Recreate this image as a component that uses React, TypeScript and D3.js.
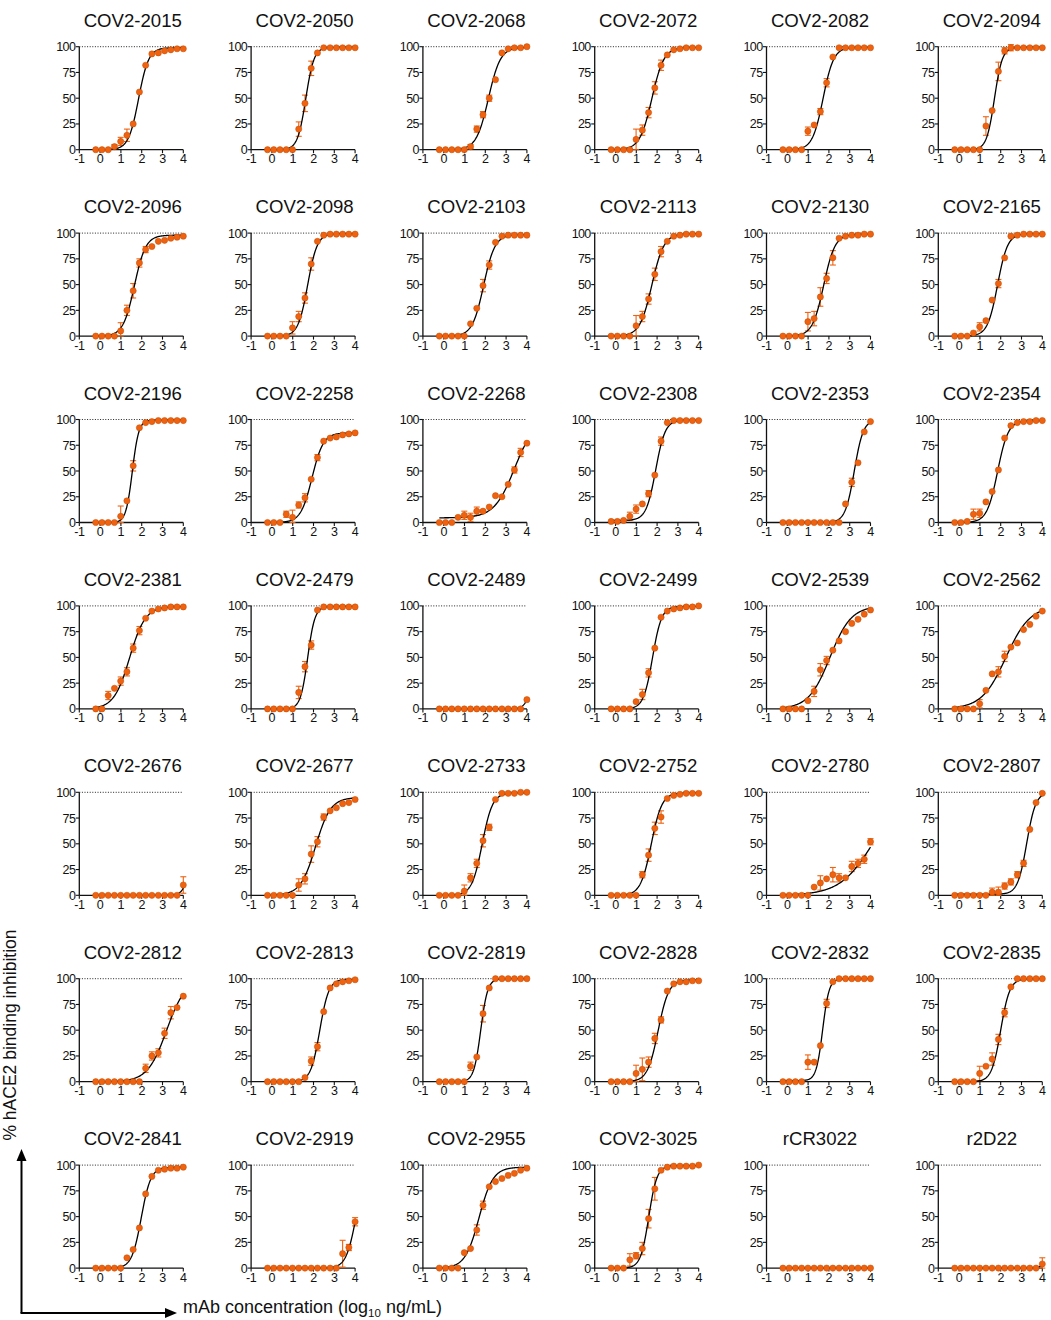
import React from "react";
import * as d3 from "d3";

const panelNames = [
  "COV2-2015", "COV2-2050", "COV2-2068", "COV2-2072", "COV2-2082", "COV2-2094",
  "COV2-2096", "COV2-2098", "COV2-2103", "COV2-2113", "COV2-2130", "COV2-2165",
  "COV2-2196", "COV2-2258", "COV2-2268", "COV2-2308", "COV2-2353", "COV2-2354",
  "COV2-2381", "COV2-2479", "COV2-2489", "COV2-2499", "COV2-2539", "COV2-2562",
  "COV2-2676", "COV2-2677", "COV2-2733", "COV2-2752", "COV2-2780", "COV2-2807",
  "COV2-2812", "COV2-2813", "COV2-2819", "COV2-2828", "COV2-2832", "COV2-2835",
  "COV2-2841", "COV2-2919", "COV2-2955", "COV2-3025", "rCR3022", "r2D22",
];

// log10 ng/mL of the 2-fold dilution series
const logConc = [-0.21, 0.09, 0.39, 0.69, 0.99, 1.29, 1.59, 1.89, 2.19, 2.49, 2.8, 3.1, 3.4, 3.7, 4.0];

const inhibition = [
  [0, 0, 0, 3, 8, 14, 25, 56, 82, 93, 94, 96, 97, 98, 98],
  [0, 0, 0, 0, 0, 20, 45, 79, 94, 99, 99, 99, 99, 99, 99],
  [0, 0, 0, 0, 0, 3, 20, 34, 50, 68, 94, 98, 99, 99, 100],
  [0, 0, 0, 0, 10, 19, 36, 60, 82, 92, 97, 98, 99, 99, 99],
  [0, 0, 0, 0, 18, 24, 37, 65, 90, 99, 99, 99, 99, 99, 99],
  [0, 0, 0, 0, 0, 23, 38, 76, 96, 99, 99, 99, 99, 99, 99],
  [0, 0, 0, 0, 5, 25, 44, 71, 84, 87, 92, 93, 95, 96, 97],
  [0, 0, 0, 0, 8, 19, 37, 70, 92, 98, 99, 99, 99, 99, 99],
  [0, 0, 0, 0, 0, 12, 27, 49, 69, 91, 97, 98, 98, 98, 98],
  [0, 0, 0, 0, 10, 19, 36, 60, 82, 92, 97, 98, 99, 99, 99],
  [0, 0, 0, 0, 14, 17, 38, 56, 76, 95, 97, 98, 98, 99, 99],
  [0, 0, 0, 3, 9, 15, 35, 51, 76, 97, 98, 99, 99, 99, 99],
  [0, 0, 0, 0, 6, 21, 55, 92, 97, 98, 99, 99, 99, 99, 99],
  [0, 0, 0, 8, 5, 17, 24, 42, 63, 79, 82, 83, 85, 86, 87],
  [0, 0, 0, 5, 7, 5, 11, 11, 15, 26, 25, 37, 51, 68, 77],
  [1, 1, 2, 6, 13, 18, 28, 46, 79, 97, 99, 99, 99, 99, 99],
  [0, 0, 0, 0, 0, 0, 0, 0, 0, 0, 18, 39, 58, 88, 98],
  [0, 0, 1, 8, 9, 20, 30, 51, 82, 94, 97, 98, 98, 99, 99],
  [0, 0, 13, 20, 27, 36, 59, 76, 88, 95, 97, 98, 99, 99, 99],
  [0, 0, 0, 0, 0, 16, 41, 62, 96, 99, 99, 99, 99, 99, 99],
  [0, 0, 0, 0, 0, 0, 0, 0, 0, 0, 0, 0, 0, 0, 9],
  [0, 0, 0, 0, 7, 14, 35, 59, 89, 95, 97, 98, 99, 99, 100],
  [0, 0, 0, 0, 8, 17, 38, 47, 57, 66, 75, 83, 87, 92, 96],
  [0, 0, 0, 0, 5, 18, 34, 36, 51, 60, 64, 77, 82, 90, 95],
  [0, 0, 0, 0, 0, 0, 0, 0, 0, 0, 0, 0, 0, 0, 10],
  [0, 0, 0, 0, 0, 10, 16, 40, 52, 76, 82, 85, 89, 90, 93],
  [0, 0, 0, 0, 4, 17, 31, 53, 66, 93, 99, 99, 99, 100, 100],
  [0, 0, 0, 0, 0, 20, 39, 65, 76, 94, 97, 98, 99, 99, 99],
  [0, 0, 0, 0, 0, 8, 12, 16, 20, 17, 17, 28, 31, 35, 52],
  [0, 0, 0, 0, 0, 0, 3, 3, 9, 13, 20, 31, 64, 90, 99],
  [0, 0, 0, 0, 0, 0, 0, 0, 13, 25, 28, 47, 67, 72, 83],
  [0, 0, 0, 0, 0, 0, 4, 20, 34, 68, 91, 95, 97, 98, 99],
  [0, 0, 0, 0, 0, 15, 24, 66, 91, 100, 100, 100, 100, 100, 100],
  [0, 0, 0, 0, 8, 12, 19, 42, 60, 88, 95, 97, 97, 98, 98],
  [0, 0, 0, 0, 19, 19, 35, 76, 97, 100, 100, 100, 100, 100, 100],
  [0, 0, 0, 0, 8, 15, 22, 41, 67, 92, 100, 100, 100, 100, 100],
  [0, 0, 0, 0, 0, 10, 18, 39, 72, 89, 95, 96, 97, 97, 98],
  [0, 0, 0, 0, 0, 0, 0, 0, 0, 0, 0, 0, 14, 20, 45],
  [0, 0, 0, 0, 15, 19, 37, 61, 79, 84, 87, 90, 92, 95, 97],
  [0, 0, 0, 8, 12, 19, 48, 77, 95, 98, 99, 99, 99, 99, 100],
  [0, 0, 0, 0, 0, 0, 0, 0, 0, 0, 0, 0, 0, 0, 0],
  [0, 0, 0, 0, 0, 0, 0, 0, 0, 0, 0, 0, 0, 0, 4],
];

const errorSD = [
  [0, 0, 0, 2, 4, 6, 0, 0, 0, 0, 0, 0, 0, 0, 0],
  [0, 0, 0, 0, 0, 7, 8, 7, 0, 0, 0, 0, 0, 0, 0],
  [0, 0, 0, 0, 0, 2, 3, 3, 3, 0, 0, 0, 0, 0, 0],
  [0, 0, 0, 0, 10, 5, 5, 6, 5, 0, 0, 0, 0, 0, 0],
  [0, 0, 0, 0, 4, 0, 3, 4, 0, 0, 0, 0, 0, 0, 0],
  [0, 0, 0, 0, 0, 9, 0, 9, 3, 3, 0, 0, 0, 0, 0],
  [0, 0, 0, 0, 8, 5, 7, 4, 3, 0, 0, 0, 0, 0, 0],
  [0, 0, 0, 0, 6, 5, 5, 6, 0, 0, 0, 0, 0, 0, 0],
  [0, 0, 0, 0, 0, 0, 0, 6, 4, 0, 0, 0, 0, 0, 0],
  [0, 0, 0, 0, 10, 5, 5, 6, 5, 0, 0, 0, 0, 0, 0],
  [0, 0, 0, 0, 9, 7, 9, 5, 7, 0, 0, 0, 0, 0, 0],
  [0, 0, 0, 0, 4, 0, 0, 4, 0, 0, 0, 0, 0, 0, 0],
  [0, 0, 0, 0, 10, 0, 5, 0, 0, 0, 0, 0, 0, 0, 0],
  [0, 0, 0, 3, 7, 3, 4, 0, 3, 0, 0, 0, 0, 0, 0],
  [0, 0, 0, 0, 4, 4, 4, 0, 0, 0, 0, 0, 3, 4, 0],
  [0, 0, 0, 4, 4, 0, 3, 0, 4, 0, 0, 0, 0, 0, 0],
  [0, 0, 0, 0, 0, 0, 0, 0, 0, 0, 0, 4, 0, 0, 0],
  [0, 0, 0, 5, 4, 0, 0, 0, 0, 0, 0, 0, 0, 0, 0],
  [0, 0, 4, 0, 4, 4, 4, 4, 0, 0, 0, 0, 0, 0, 0],
  [0, 0, 0, 0, 0, 6, 5, 4, 0, 0, 0, 0, 0, 0, 0],
  [0, 0, 0, 0, 0, 0, 0, 0, 0, 0, 0, 0, 0, 0, 0],
  [0, 0, 0, 0, 0, 5, 4, 0, 0, 0, 0, 0, 0, 0, 0],
  [0, 0, 0, 0, 0, 5, 6, 4, 0, 0, 0, 0, 0, 0, 0],
  [0, 0, 0, 0, 4, 0, 0, 5, 5, 0, 0, 0, 0, 0, 0],
  [0, 0, 0, 0, 0, 0, 0, 0, 0, 0, 0, 0, 0, 0, 8],
  [0, 0, 0, 0, 0, 6, 5, 8, 5, 3, 0, 0, 0, 0, 0],
  [0, 0, 0, 0, 6, 4, 4, 6, 3, 0, 0, 0, 0, 0, 0],
  [0, 0, 0, 0, 0, 3, 6, 6, 6, 0, 0, 0, 0, 0, 0],
  [0, 0, 0, 0, 0, 0, 7, 0, 7, 4, 0, 5, 4, 4, 3],
  [0, 0, 0, 0, 0, 0, 4, 5, 3, 3, 3, 3, 0, 0, 0],
  [0, 0, 0, 0, 0, 0, 0, 0, 4, 4, 4, 5, 6, 0, 0],
  [0, 0, 0, 0, 0, 0, 0, 4, 4, 0, 0, 0, 0, 0, 0],
  [0, 0, 0, 0, 0, 4, 0, 8, 0, 0, 0, 0, 0, 0, 0],
  [0, 0, 0, 0, 8, 11, 5, 5, 3, 0, 0, 0, 0, 0, 0],
  [0, 0, 0, 0, 7, 0, 0, 4, 0, 0, 0, 0, 0, 0, 0],
  [0, 0, 0, 0, 7, 0, 6, 5, 4, 0, 0, 0, 0, 0, 0],
  [0, 0, 0, 0, 0, 0, 0, 0, 0, 0, 0, 0, 0, 0, 0],
  [0, 0, 0, 0, 0, 0, 0, 0, 0, 0, 0, 0, 13, 3, 4],
  [0, 0, 0, 0, 0, 0, 5, 4, 0, 0, 0, 0, 0, 0, 0],
  [0, 0, 0, 6, 3, 6, 9, 11, 0, 0, 0, 0, 0, 0, 0],
  [0, 0, 0, 0, 0, 0, 0, 0, 0, 0, 0, 0, 0, 0, 0],
  [0, 0, 0, 0, 0, 0, 0, 0, 0, 0, 0, 0, 0, 0, 6],
];

// four-parameter logistic fit per panel
const fitBottom = [0, 0, 0, 0, 0, 0, 0, 0, 0, 0, 0, 0, 0, 0, 4.5, 2, 0, 0, 0, 0, 0, 0, 0, 0, 0, 0, 0, 0, 0, 1, 0, 0, 0, 0, 1, 0, 0, 0, 0, 0, 0, 0];
const fitTop = [99, 99.5, 99.5, 99.5, 99.5, 99.5, 98, 99.5, 98.5, 99.5, 99, 99.5, 99.5, 87, 100, 99.5, 100, 99, 99.5, 99.5, 100, 99.5, 100, 100, 100, 95, 99.5, 99.5, 100, 100, 100, 99.5, 100, 99, 100, 100, 98, 100, 98, 99.5, 0, 100];
const fitLogIC50 = [1.85, 1.63, 2.15, 1.75, 1.72, 1.7, 1.65, 1.72, 1.92, 1.75, 1.75, 1.85, 1.55, 1.93, 3.4, 1.93, 3.22, 1.85, 1.42, 1.72, 4.4, 1.78, 2.05, 2.25, 4.45, 2.1, 1.85, 1.72, 4.1, 3.25, 3.2, 2.3, 1.78, 2.05, 1.7, 2.0, 1.98, 4.05, 1.7, 1.6, 2.0, 4.6];
const fitHill = [1.8, 2.2, 1.5, 1.5, 1.7, 2.3, 1.6, 1.9, 1.6, 1.5, 1.6, 1.8, 2.8, 1.6, 0.9, 1.9, 2.0, 1.7, 1.15, 2.5, 2.5, 2.0, 0.85, 0.75, 2.5, 1.2, 1.75, 1.7, 0.55, 2.0, 0.95, 2.0, 2.6, 1.7, 2.8, 2.0, 1.9, 1.8, 1.3, 2.2, 1.0, 2.5];

const yTicks = [0, 25, 50, 75, 100];
const xTicks = [-1, 0, 1, 2, 3, 4];

const FONT = "'Liberation Sans', Arial, Helvetica, sans-serif";
const ORANGE = "#EE6210";

const colX0 = 79.3;
const colStep = 171.8;
const rowY0 = 46.7;
const rowStep = 186.4;
const plotW = 104;
const plotH = 103;

const xScale = d3.scaleLinear().domain([-1, 4]).range([0, plotW]);
const yScale = d3.scaleLinear().domain([0, 100]).range([plotH, 0]);

function logistic(i: number, x: number) {
  const b = fitBottom[i], t = fitTop[i], c = fitLogIC50[i], h = fitHill[i];
  return b + (t - b) / (1 + Math.pow(10, (c - x) * h));
}

function Panel({ i }: { i: number }) {
  const c = i % 6;
  const r = Math.floor(i / 6);
  const tx = colX0 + c * colStep;
  const ty = rowY0 + r * rowStep;
  const xmin = d3.min(logConc) as number;
  const xmax = d3.max(logConc) as number;
  const samples = d3.range(0, 201).map((k) => xmin + ((xmax - xmin) * k) / 200);
  const line = d3
    .line<number>()
    .x((x) => xScale(x))
    .y((x) => yScale(logistic(i, x)))
    .curve(d3.curveLinear);
  const vals = inhibition[i];
  const errs = errorSD[i];
  return (
    <g transform={`translate(${tx},${ty})`}>
      <text x={plotW / 2 + 1.5} y={-20} textAnchor="middle" fontSize={18.6} fontFamily={FONT} fill="#111">
        {panelNames[i]}
      </text>
      <line x1={0} x2={plotW} y1={yScale(100)} y2={yScale(100)} stroke="#222" strokeWidth={1} strokeDasharray="1,1.6" />
      {yTicks.map((t) => (
        <g key={"y" + t}>
          <line x1={-3.5} x2={0} y1={yScale(t)} y2={yScale(t)} stroke="#111" strokeWidth={1.1} />
          <text x={-4} y={yScale(t)} dy="0.36em" textAnchor="end" fontSize={12.5} fontFamily={FONT} letterSpacing={-0.6} fill="#111">
            {t}
          </text>
        </g>
      ))}
      {xTicks.map((t) => (
        <g key={"x" + t}>
          <line x1={xScale(t)} x2={xScale(t)} y1={plotH} y2={plotH + 3.5} stroke="#111" strokeWidth={1.1} />
          <text x={xScale(t)} y={plotH + 13.5} textAnchor="middle" fontSize={12.5} fontFamily={FONT} letterSpacing={-0.4} fill="#111">
            {t}
          </text>
        </g>
      ))}
      <line x1={0} x2={0} y1={0} y2={plotH} stroke="#111" strokeWidth={1.3} />
      <line x1={0} x2={plotW} y1={plotH} y2={plotH} stroke="#111" strokeWidth={1.3} />
      {logConc.map((x, k) =>
        errs[k] > 0 ? (
          <g key={"e" + k} stroke={ORANGE} strokeWidth={1.1}>
            <line x1={xScale(x)} x2={xScale(x)} y1={yScale(vals[k] + errs[k])} y2={yScale(Math.max(0, vals[k] - errs[k]))} />
            <line x1={xScale(x) - 3} x2={xScale(x) + 3} y1={yScale(vals[k] + errs[k])} y2={yScale(vals[k] + errs[k])} />
            <line x1={xScale(x) - 3} x2={xScale(x) + 3} y1={yScale(Math.max(0, vals[k] - errs[k]))} y2={yScale(Math.max(0, vals[k] - errs[k]))} />
          </g>
        ) : null
      )}
      <path d={line(samples) || ""} fill="none" stroke="#000" strokeWidth={1.3} />
      {logConc.map((x, k) => (
        <circle key={"p" + k} cx={xScale(x)} cy={yScale(vals[k])} r={3.1} fill={ORANGE} stroke="#C24A00" strokeWidth={0.5} />
      ))}
    </g>
  );
}

export default function App() {
  return (
    <svg width={1051} height={1320} style={{ position: "absolute", left: 0, top: 0, background: "#fff" }}>
      <rect x={0} y={0} width={1051} height={1320} fill="#fff" />
      {panelNames.map((_, i) => (
        <Panel key={i} i={i} />
      ))}
      <line x1={21.5} x2={21.5} y1={1313} y2={1158} stroke="#000" strokeWidth={2} />
      <path d="M21.5,1149 L16.5,1161 L26.5,1161 Z" fill="#000" />
      <line x1={20.5} x2={166} y1={1313} y2={1313} stroke="#000" strokeWidth={2} />
      <path d="M177,1313 L165,1308 L165,1318 Z" fill="#000" />
      <text transform="translate(16,1035) rotate(-90)" textAnchor="middle" fontSize={17.5} fontFamily={FONT} fill="#111">
        % hACE2 binding inhibition
      </text>
      <text x={183} y={1313} fontSize={18} fontFamily={FONT} fill="#111">
        mAb concentration (log
        <tspan fontSize={11.5} dy={4}>10</tspan>
        <tspan dy={-4}> ng/mL)</tspan>
      </text>
    </svg>
  );
}
